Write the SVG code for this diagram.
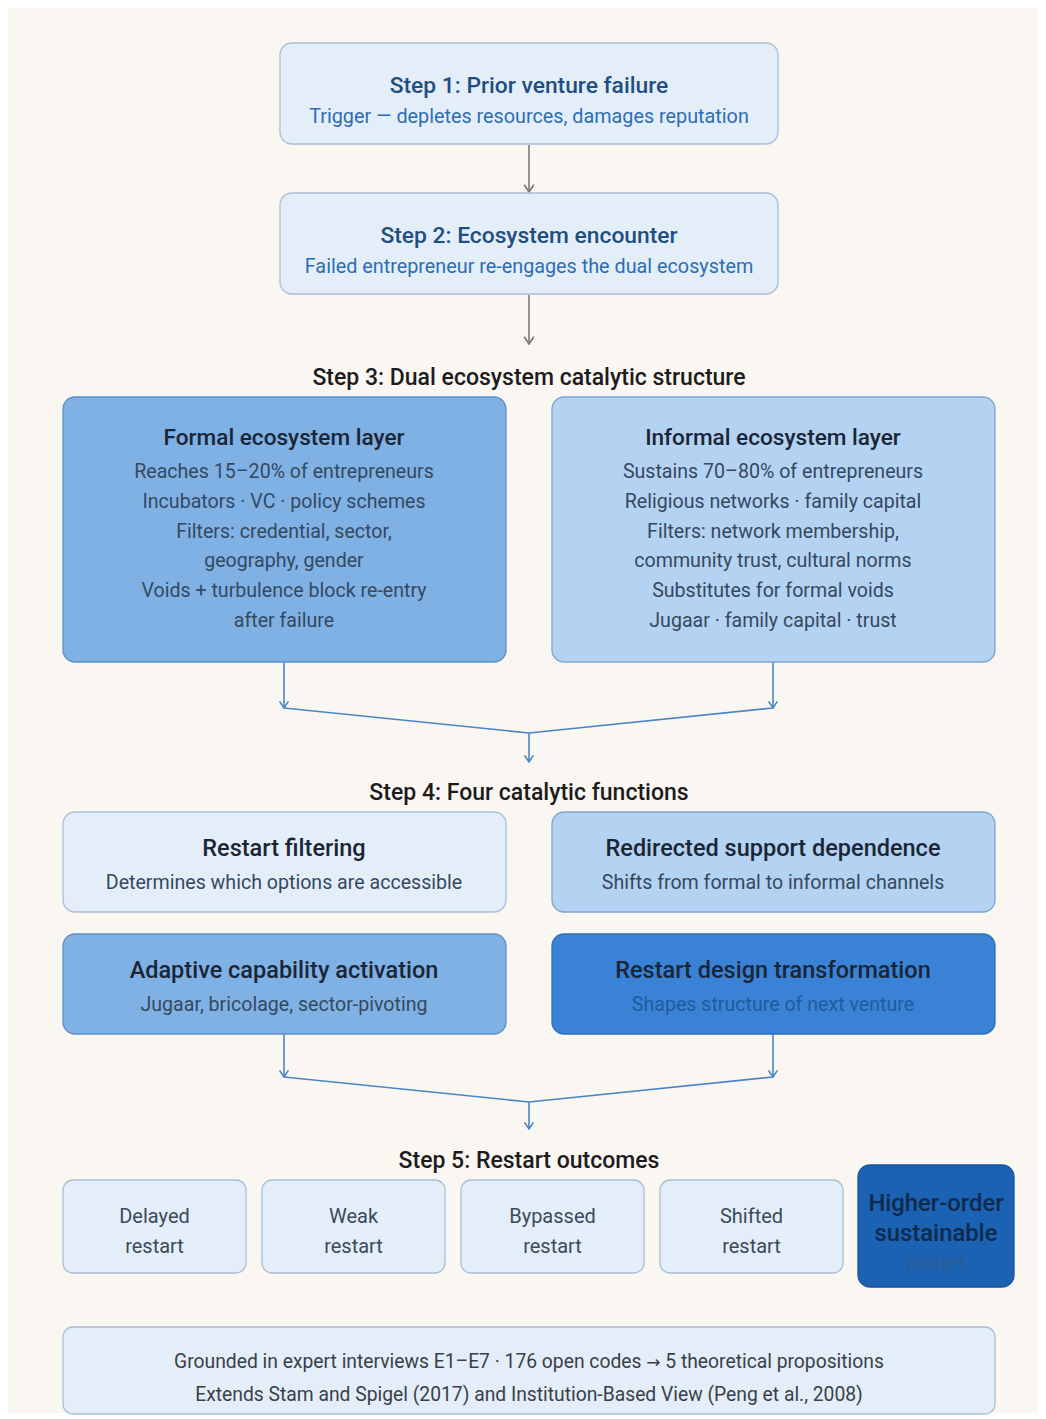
<svg xmlns="http://www.w3.org/2000/svg" width="1046" height="1419" viewBox="0 0 1046 1419">
<style>
text{font-family:Roboto,"Liberation Sans",sans-serif;text-anchor:middle}
.box{stroke-width:1.3}
.t{font-size:22.6px;font-weight:500;fill:#1a2636}
.t2{font-size:23.5px;font-weight:500;fill:#1a2636}
.s{font-size:19.6px;fill:#34495f}
.st{font-size:22.8px;font-weight:500;fill:#1f4f80}
.ss{font-size:19.8px;fill:#2c6db3}
.h{font-size:23px;font-weight:500;fill:#1c1c1c}
.o{font-size:20px;fill:#3b4a5a}
.f{font-size:19.3px;fill:#3a4048}
.gray{stroke:#7a7a7a;stroke-width:1.6;fill:none}
.blue{stroke:#4a86c5;stroke-width:1.6;fill:none}
</style>
<defs>
<marker id="ag" viewBox="0 0 10 10" refX="9" refY="5" markerWidth="12" markerHeight="12" markerUnits="userSpaceOnUse" orient="auto"><path d="M3,1 L9,5 L3,9" fill="none" stroke="#7a7a7a" stroke-width="1.4"/></marker>
<marker id="ab" viewBox="0 0 10 10" refX="9" refY="5" markerWidth="11" markerHeight="11" markerUnits="userSpaceOnUse" orient="auto"><path d="M3,1 L9,5 L3,9" fill="none" stroke="#4a86c5" stroke-width="1.4"/></marker>
</defs>
<rect x="0" y="0" width="1046" height="1419" fill="#ffffff"/>
<rect x="8" y="8" width="1030" height="1405" fill="#faf6f2"/>

<g id="connectors">
<line class="gray" x1="529" y1="145" x2="529" y2="192" marker-end="url(#ag)"/>
<line class="gray" x1="529" y1="295" x2="529" y2="344" marker-end="url(#ag)"/>
<line class="blue" x1="284" y1="662" x2="284" y2="708" marker-end="url(#ab)"/>
<line class="blue" x1="773" y1="662" x2="773" y2="708" marker-end="url(#ab)"/>
<polyline class="blue" points="284,708 529,733 773,708"/>
<line class="blue" x1="529" y1="733" x2="529" y2="762" marker-end="url(#ab)"/>
<line class="blue" x1="284" y1="1034" x2="284" y2="1077" marker-end="url(#ab)"/>
<line class="blue" x1="773" y1="1034" x2="773" y2="1077" marker-end="url(#ab)"/>
<polyline class="blue" points="284,1077 529,1102 773,1077"/>
<line class="blue" x1="529" y1="1102" x2="529" y2="1129" marker-end="url(#ab)"/>
</g>

<g id="step1">
<rect class="box" x="280" y="43" width="498" height="101" rx="12" fill="#e4eef9" stroke="#a8bfd6"/>
<text class="st" x="529" y="93">Step 1: Prior venture failure</text>
<text class="ss" x="529" y="123">Trigger — depletes resources, damages reputation</text>
</g>
<g id="step2">
<rect class="box" x="280" y="193" width="498" height="101" rx="12" fill="#e4eef9" stroke="#a8bfd6"/>
<text class="st" x="529" y="243">Step 2: Ecosystem encounter</text>
<text class="ss" x="529" y="273">Failed entrepreneur re-engages the dual ecosystem</text>
</g>

<text id="step3-label" class="h" x="529" y="385">Step 3: Dual ecosystem catalytic structure</text>

<g id="formal">
<rect class="box" x="63" y="397" width="443" height="265" rx="12" fill="#80b1e5" stroke="#5e90c6"/>
<text class="t" x="284" y="445">Formal ecosystem layer</text>
<text class="s" x="284" y="478">Reaches 15–20% of entrepreneurs</text>
<text class="s" x="284" y="508">Incubators · VC · policy schemes</text>
<text class="s" x="284" y="538">Filters: credential, sector,</text>
<text class="s" x="284" y="567">geography, gender</text>
<text class="s" x="284" y="597">Voids + turbulence block re-entry</text>
<text class="s" x="284" y="627">after failure</text>
</g>
<g id="informal">
<rect class="box" x="552" y="397" width="443" height="265" rx="12" fill="#b4d2f1" stroke="#7ea6cf"/>
<text class="t" x="773" y="445">Informal ecosystem layer</text>
<text class="s" x="773" y="478">Sustains 70–80% of entrepreneurs</text>
<text class="s" x="773" y="508">Religious networks · family capital</text>
<text class="s" x="773" y="538">Filters: network membership,</text>
<text class="s" x="773" y="567">community trust, cultural norms</text>
<text class="s" x="773" y="597">Substitutes for formal voids</text>
<text class="s" x="773" y="627">Jugaar · family capital · trust</text>
</g>

<text id="step4-label" class="h" x="529" y="800">Step 4: Four catalytic functions</text>

<g id="restart-filtering">
<rect class="box" x="63" y="812" width="443" height="100" rx="12" fill="#e4eef9" stroke="#a8bfd6"/>
<text class="t2" x="284" y="856">Restart filtering</text>
<text class="s" x="284" y="889">Determines which options are accessible</text>
</g>
<g id="redirected-support">
<rect class="box" x="552" y="812" width="443" height="100" rx="12" fill="#b4d2f1" stroke="#7ea6cf"/>
<text class="t2" x="773" y="856">Redirected support dependence</text>
<text class="s" x="773" y="889">Shifts from formal to informal channels</text>
</g>
<g id="adaptive-capability">
<rect class="box" x="63" y="934" width="443" height="100" rx="12" fill="#80b1e5" stroke="#5e90c6"/>
<text class="t2" x="284" y="978">Adaptive capability activation</text>
<text class="s" x="284" y="1011">Jugaar, bricolage, sector-pivoting</text>
</g>
<g id="restart-design">
<rect class="box" x="552" y="934" width="443" height="100" rx="12" fill="#3a82d6" stroke="#2c6db8"/>
<text class="t2" x="773" y="978">Restart design transformation</text>
<text class="s" x="773" y="1011" style="fill:#1f5c9e">Shapes structure of next venture</text>
</g>

<text id="step5-label" class="h" x="529" y="1168">Step 5: Restart outcomes</text>

<g id="delayed">
<rect class="box" x="63" y="1180" width="183" height="93" rx="10" fill="#e4eef9" stroke="#a8bfd6"/>
<text class="o" x="154.5" y="1223">Delayed</text>
<text class="o" x="154.5" y="1253">restart</text>
</g>
<g id="weak">
<rect class="box" x="262" y="1180" width="183" height="93" rx="10" fill="#e4eef9" stroke="#a8bfd6"/>
<text class="o" x="353.5" y="1223">Weak</text>
<text class="o" x="353.5" y="1253">restart</text>
</g>
<g id="bypassed">
<rect class="box" x="461" y="1180" width="183" height="93" rx="10" fill="#e4eef9" stroke="#a8bfd6"/>
<text class="o" x="552.5" y="1223">Bypassed</text>
<text class="o" x="552.5" y="1253">restart</text>
</g>
<g id="shifted">
<rect class="box" x="660" y="1180" width="183" height="93" rx="10" fill="#e4eef9" stroke="#a8bfd6"/>
<text class="o" x="751.5" y="1223">Shifted</text>
<text class="o" x="751.5" y="1253">restart</text>
</g>
<g id="higher-order">
<rect class="box" x="858" y="1165" width="156" height="122" rx="12" fill="#1b62b3" stroke="#16549c"/>
<text class="t" x="936" y="1211" style="fill:#0e2a4c;font-size:23.8px">Higher-order</text>
<text class="t" x="936" y="1241" style="fill:#0e2a4c;font-size:23.8px">sustainable</text>
<text class="o" x="936" y="1270" style="fill:#2a5c94">restart</text>
</g>

<g id="footer">
<rect class="box" x="63" y="1327" width="932" height="87" rx="10" fill="#e4eef9" stroke="#a8bfd6"/>
<text class="f" x="529" y="1368">Grounded in expert interviews E1–E7 · 176 open codes <tspan style="font-family:'DejaVu Sans',sans-serif;font-size:17px">→</tspan> 5 theoretical propositions</text>
<text class="f" x="529" y="1401">Extends Stam and Spigel (2017) and Institution-Based View (Peng et al., 2008)</text>
</g>
</svg>
